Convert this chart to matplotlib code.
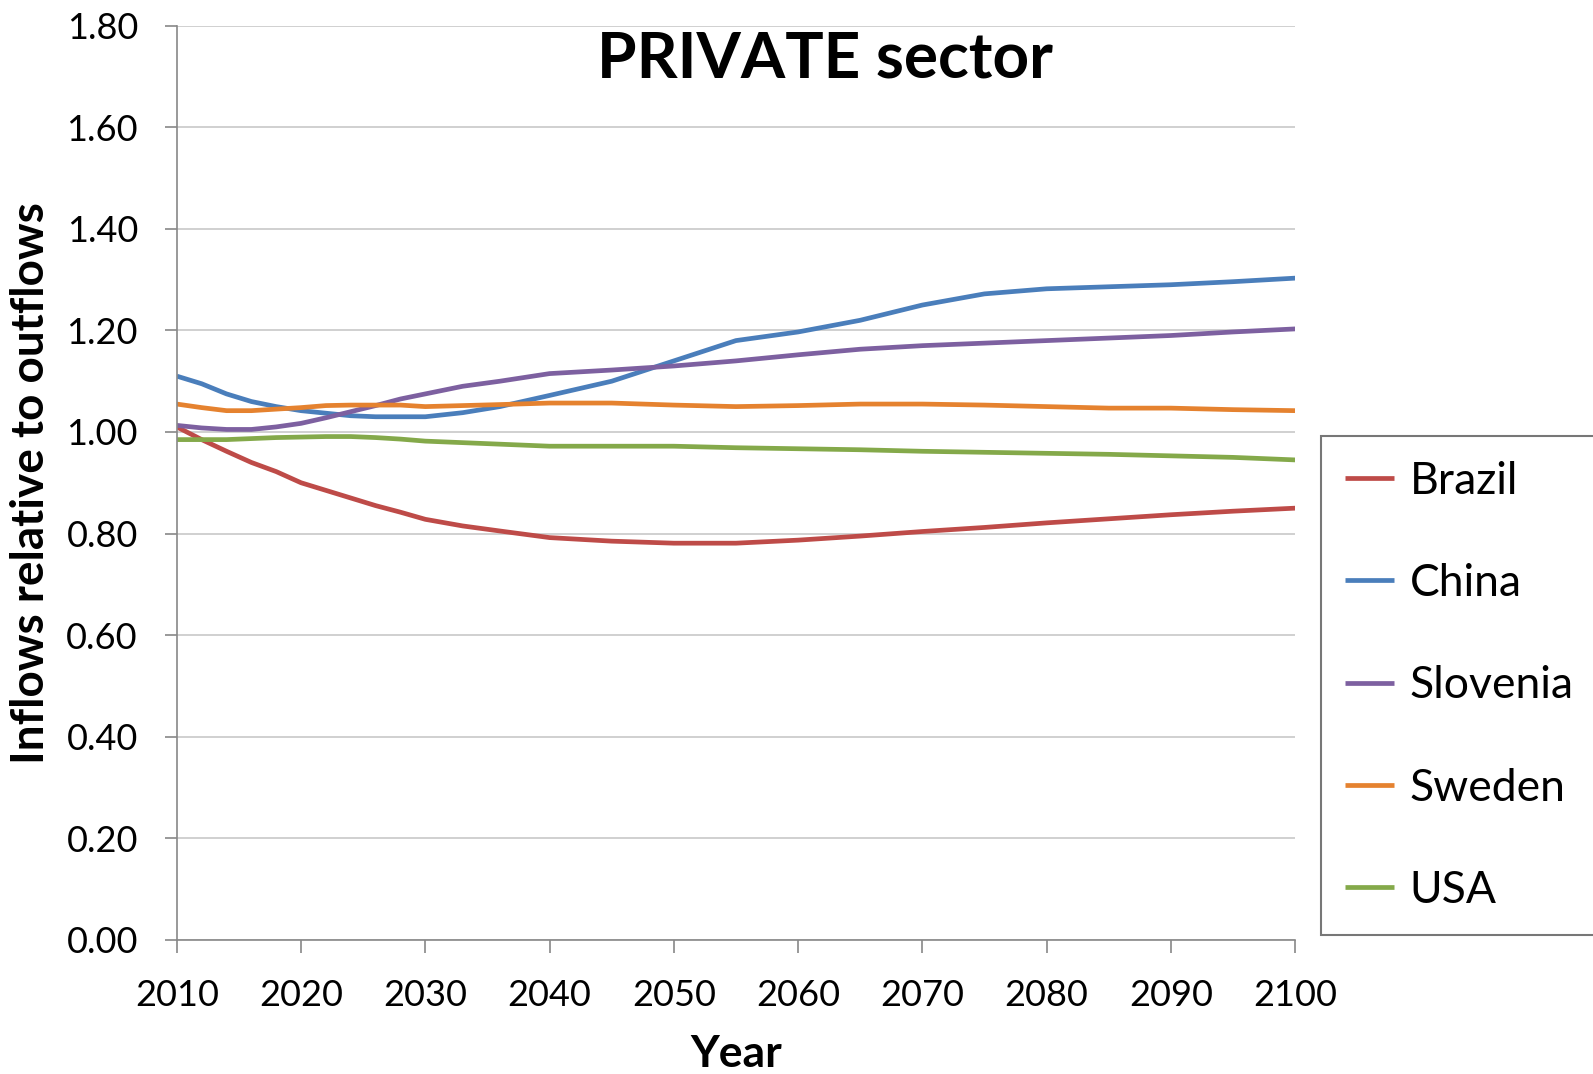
import matplotlib.pyplot as plt
import matplotlib.ticker as mticker

plt.rcParams['font.family'] = ['Lato', 'DejaVu Sans']

years = [2010, 2012, 2014, 2016, 2018, 2020, 2022, 2024, 2026, 2028, 2030,
         2033, 2036, 2040, 2045, 2050, 2055, 2060, 2065, 2070, 2075,
         2080, 2085, 2090, 2095, 2100]

brazil = [1.010, 0.985, 0.962, 0.940, 0.922, 0.900, 0.885, 0.870, 0.855, 0.842, 0.828,
          0.815, 0.805, 0.792, 0.785, 0.781, 0.781, 0.787, 0.795, 0.804, 0.812,
          0.821, 0.829, 0.837, 0.844, 0.850]
china = [1.110, 1.095, 1.075, 1.060, 1.050, 1.042, 1.037, 1.032, 1.030, 1.030, 1.030,
         1.038, 1.050, 1.072, 1.100, 1.140, 1.180, 1.197, 1.220, 1.250, 1.272,
         1.282, 1.286, 1.290, 1.296, 1.303]
slovenia = [1.013, 1.008, 1.005, 1.005, 1.010, 1.017, 1.028, 1.040, 1.052, 1.065, 1.075,
            1.090, 1.100, 1.115, 1.122, 1.130, 1.140, 1.152, 1.163, 1.170, 1.175,
            1.180, 1.185, 1.190, 1.197, 1.203]
sweden = [1.055, 1.048, 1.042, 1.042, 1.045, 1.048, 1.052, 1.053, 1.053, 1.053, 1.050,
          1.052, 1.054, 1.057, 1.057, 1.053, 1.050, 1.052, 1.055, 1.055, 1.053,
          1.050, 1.047, 1.047, 1.044, 1.042]
usa = [0.985, 0.985, 0.985, 0.987, 0.989, 0.990, 0.991, 0.991, 0.989, 0.986, 0.982,
       0.979, 0.976, 0.972, 0.972, 0.972, 0.969, 0.967, 0.965, 0.962, 0.960,
       0.958, 0.956, 0.953, 0.950, 0.945]

series = [("Brazil", brazil, '#BE4B48'),
          ("China", china, '#4A7EBB'),
          ("Slovenia", slovenia, '#7D60A0'),
          ("Sweden", sweden, '#E5822F'),
          ("USA", usa, '#84A94A')]

fig = plt.figure(figsize=(15.93, 10.74), dpi=100)
ax = fig.add_axes([0.111, 0.125, 0.702, 0.851])

for name, vals, col in series:
    ax.plot(years, vals, color=col, lw=3.4, label=name, solid_capstyle='butt')

ax.set_xlim(2010, 2100)
ax.set_ylim(0, 1.8)
ax.set_xticks(range(2010, 2101, 10))
ax.set_yticks([i * 0.2 for i in range(10)])
ax.yaxis.set_major_formatter(mticker.FormatStrFormatter('%.2f'))
ax.grid(axis='y', color='#C8C8C8', lw=1.2)
ax.set_axisbelow(True)
for s in ['top', 'right']:
    ax.spines[s].set_visible(False)
for s in ['left', 'bottom']:
    ax.spines[s].set_color('#888888')
    ax.spines[s].set_linewidth(1.2)
ax.tick_params(axis='both', labelsize=26, color='#888888', width=1.2, length=9)
ax.tick_params(axis='y', pad=19)
ax.tick_params(axis='x', pad=19)

ax.set_ylabel('Inflows relative to outflows', fontsize=33, fontweight='bold', labelpad=10)
ax.set_xlabel('Year', fontsize=32, fontweight='bold', labelpad=16)
ax.text(0.58, 0.995, 'PRIVATE sector', transform=ax.transAxes, ha='center', va='top',
        fontsize=46, fontweight='bold')

leg = fig.legend(loc='center left', bbox_to_anchor=(0.829, 0.128, 0.25, 0.467),
                 mode='expand', fontsize=32, frameon=True, fancybox=False,
                 edgecolor='#555555', handlelength=1.1, handletextpad=0.35,
                 labelspacing=1.38, borderpad=0.55, borderaxespad=0)
leg.get_frame().set_linewidth(1.5)

fig.savefig('out.png', dpi=100)
